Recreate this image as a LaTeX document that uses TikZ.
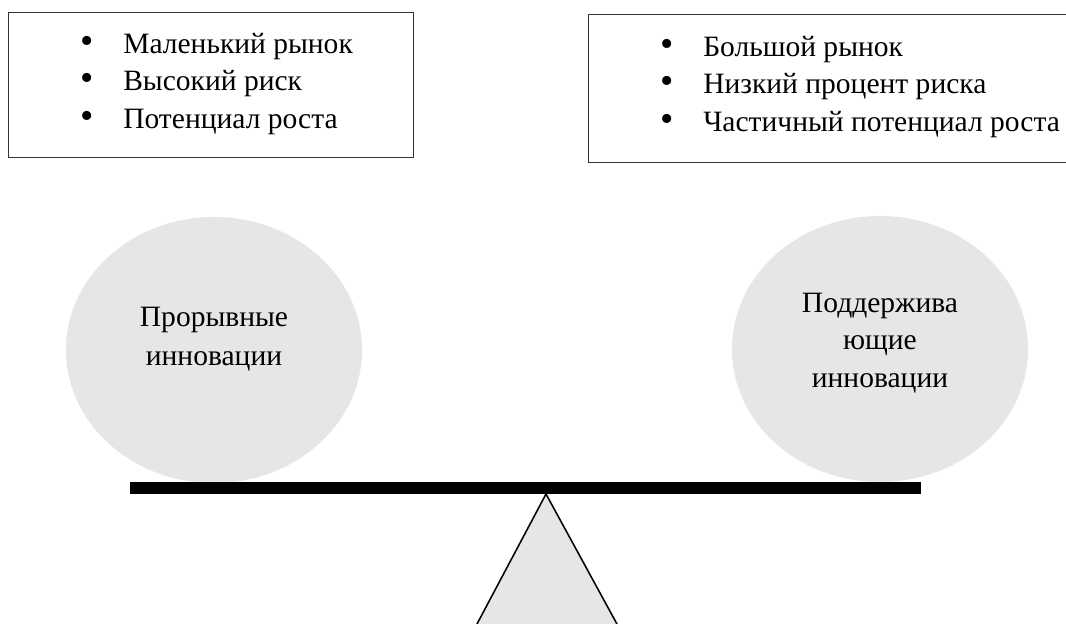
\documentclass[tikz,border=0pt]{standalone}
\usepackage{fontspec}
\setmainfont{Liberation Serif}
\usetikzlibrary{shapes.geometric,positioning}
\definecolor{ballgray}{HTML}{E6E6E6}
\newcommand{\bul}{\makebox[1.075cm][l]{\fontsize{27}{26}\selectfont\textbullet}}

\begin{document}
\begin{tikzpicture}[
    x=0.025cm, y=-0.025cm,
    every node/.style={font=\fontsize{21}{26.5}\selectfont},
    listbox/.style={rectangle, draw=black!80, line width=0.7pt, inner sep=0pt},
    list/.style={align=left, inner sep=0pt, anchor=west},
    ball/.style={ellipse, fill=ballgray, minimum width=7.4cm, minimum height=6.65cm, inner sep=0pt},
    balltext/.style={align=center, inner sep=0pt},
    beam/.style={rectangle, fill=black, inner sep=0pt, minimum width=19.775cm, minimum height=0.3cm},
    fulcrum/.style={draw=black, fill=ballgray, line width=1.1pt}
]
    \useasboundingbox (0,0) rectangle (1066,624);

    % boxes with the lists
    \node[listbox, minimum width=10.1cm, minimum height=3.6cm] (smallbox) at (211,85) {};
    \node[list] (smalllist) at (80,84) {\bul Маленький рынок\\\bul Высокий риск\\\bul Потенциал роста};
    \node[listbox, minimum width=12.275cm, minimum height=3.675cm] (bigbox) at (834.5,88.5) {};
    \node[list] (biglist) at (660,87) {\bul Большой рынок\\\bul Низкий процент риска\\\bul Частичный потенциал роста};

    % the two balls
    \node[ball] (disr) at (214,350) {};
    \node[balltext, font=\fontsize{21}{27.5}\selectfont] (disrtext) at (214,339) {Прорывные\\инновации};
    \node[ball] (sust) at (880,349) {};
    \node[balltext] (susttext) at (880,343) {Поддержива\\ющие\\инновации};

    % fulcrum and beam
    \coordinate (pivot) at (546,494);
    \coordinate (baseleft) at (468.5,640);
    \coordinate (baseright) at (625.7,640);
    \draw[fulcrum] (pivot) -- (baseleft) -- (baseright) -- cycle;
    \node[beam] (bar) at (525.5,488) {};
\end{tikzpicture}
\end{document}
